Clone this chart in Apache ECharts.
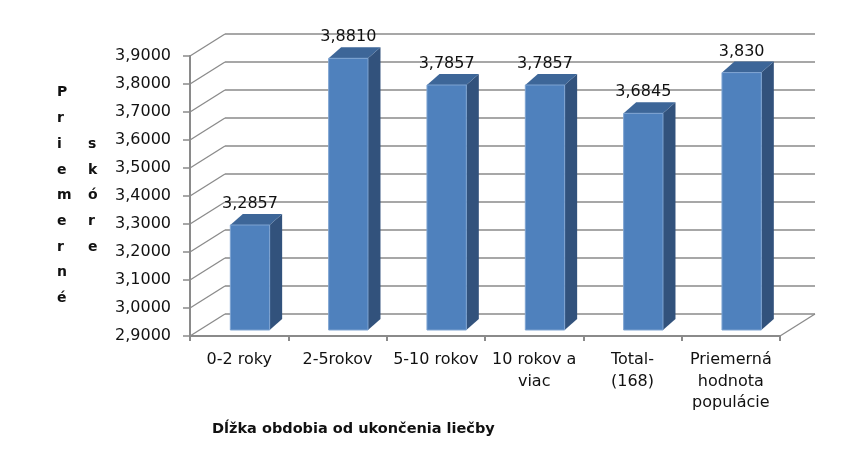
<!DOCTYPE html>
<html>
<head>
<meta charset="utf-8">
<script src="https://cdn.jsdelivr.net/npm/echarts/dist/echarts.min.js"></script>
<style>
  html, body { margin: 0; padding: 0; background: #ffffff; }
  #chart { width: 843px; height: 461px; }
</style>
</head>
<body>
<div id="chart"></div>
<script>
// ---- data ----
var categories = ['0-2 roky', '2-5rokov', '5-10 rokov', '10 rokov a\nviac', 'Total-\n(168)', 'Priemerná\nhodnota\npopulácie'];
var values = [3.2857, 3.8810, 3.7857, 3.7857, 3.6845, 3.830];
var valueLabels = ['3,2857', '3,8810', '3,7857', '3,7857', '3,6845', '3,830'];
var yTicks = [2.9, 3.0, 3.1, 3.2, 3.3, 3.4, 3.5, 3.6, 3.7, 3.8, 3.9];
var yAxisTitle1 = 'Priemerné';
var yAxisTitle2 = 'skóre';
var xAxisTitle = 'Dĺžka obdobia od ukončenia liečby';

var Y_MIN = 2.9, Y_MAX = 3.9, Y_STEP = 0.1;
var DX = 35, DY = -22;           // depth of the 3D walls
var FONT = 'DejaVu Sans';

var chart = echarts.init(document.getElementById('chart'), null, { renderer: 'canvas' });

function renderWall(params, api) {
  var t = api.value(1);
  var n = categories.length;
  var band = api.size([1, 0])[0];
  var p0 = api.coord([0, t]);
  var p1 = api.coord([n - 1, t]);
  var left = p0[0] - band / 2;
  var right = p1[0] + band / 2;
  var y = p0[1];
  var style = { stroke: '#8a8a8a', lineWidth: 1.3, fill: null };
  var children = [
    { type: 'line', shape: { x1: left, y1: y, x2: left + DX, y2: y + DY }, style: style },
    { type: 'line', shape: { x1: left + DX, y1: y + DY, x2: right + DX, y2: y + DY }, style: style }
  ];
  if (Math.abs(t - Y_MIN) < 1e-9) {
    children.push({ type: 'line', shape: { x1: right, y1: y, x2: right + DX, y2: y + DY }, style: style });
  }
  return { type: 'group', children: children };
}

function renderBar(params, api) {
  var idx = api.value(0);
  var v = api.value(1);
  var top = api.coord([idx, v]);
  var base = api.coord([idx, Y_MIN]);
  var band = api.size([1, 0])[0];
  var w = band * 0.40;
  var x0 = top[0] - band * 0.09;
  var yT = top[1] - 3;
  var yB = base[1] - 6;
  var dx = 12.5, dy = -11;
  return {
    type: 'group',
    children: [
      { type: 'polygon', shape: { points: [[x0 + w, yT], [x0 + w + dx, yT + dy], [x0 + w + dx, yB + dy], [x0 + w, yB]] },
        style: { fill: '#32527c' } },
      { type: 'polygon', shape: { points: [[x0, yT], [x0 + dx, yT + dy], [x0 + w + dx, yT + dy], [x0 + w, yT]] },
        style: { fill: '#3d6698' } },
      { type: 'rect', shape: { x: x0, y: yT, width: w, height: yB - yT },
        style: { fill: '#4f81bd', stroke: '#7ea3d1', lineWidth: 1 } },
      { type: 'text', x: x0 + w / 2, y: yT - 21,
        style: { text: valueLabels[params.dataIndex], fill: '#111', font: '16px "' + FONT + '"', align: 'center', verticalAlign: 'middle' } }
    ]
  };
}

var option = {
  backgroundColor: '#ffffff',
  animation: false,
  grid: { left: 190, right: 63, top: 56, bottom: 125, containLabel: false },
  xAxis: {
    type: 'category',
    data: categories,
    boundaryGap: true,
    axisLine: { show: true, lineStyle: { color: '#8a8a8a', width: 2 } },
    axisTick: { show: true, length: 5, lineStyle: { color: '#8a8a8a', width: 2 } },
    axisLabel: { color: '#111', fontFamily: FONT, fontSize: 16, lineHeight: 21.7, margin: 13, interval: 0 },
    splitLine: { show: false }
  },
  yAxis: {
    type: 'value',
    min: Y_MIN, max: Y_MAX, interval: Y_STEP,
    axisLine: { show: true, lineStyle: { color: '#8a8a8a', width: 2 } },
    axisTick: { show: true, length: 7, lineStyle: { color: '#8a8a8a', width: 1.5 } },
    axisLabel: {
      color: '#111', fontFamily: FONT, fontSize: 16, margin: 19,
      formatter: function (v) { return v.toFixed(4).replace('.', ','); }
    },
    splitLine: { show: false }
  },
  series: [
    {
      type: 'custom', name: 'walls', z: 1, clip: false, silent: true,
      renderItem: renderWall,
      data: yTicks.map(function (t) { return [0, t]; })
    },
    {
      type: 'custom', name: 'Priemerné skóre', z: 2, clip: false,
      renderItem: renderBar,
      data: values.map(function (v, i) { return [i, v]; })
    }
  ],
  graphic: [
    { type: 'text', left: 57, top: 80, z: 10,
      style: { text: yAxisTitle1.split('').join('\n'), font: 'bold 14px "' + FONT + '"', fill: '#111', lineHeight: 25.7, align: 'center' } },
    { type: 'text', left: 88, top: 131.4, z: 10,
      style: { text: yAxisTitle2.split('').join('\n'), font: 'bold 14px "' + FONT + '"', fill: '#111', lineHeight: 25.7, align: 'center' } },
    { type: 'text', left: 212, top: 422, z: 10,
      style: { text: xAxisTitle, font: 'bold 14.5px "' + FONT + '"', fill: '#111' } }
  ]
};

chart.setOption(option);
</script>
</body>
</html>
